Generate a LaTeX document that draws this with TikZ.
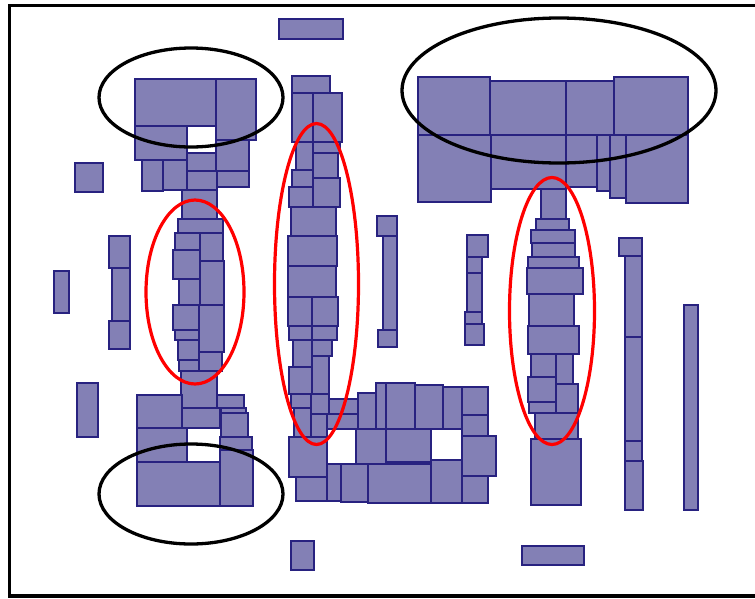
\documentclass[tikz,border=0pt]{standalone}
\definecolor{cellfill}{RGB}{131,128,181}
\definecolor{celledge}{RGB}{40,34,128}
\tikzset{
  cell/.style={fill=cellfill,draw=celledge,line width=1.2pt},
  blackring/.style={draw=black,line width=3.3pt},
  redring/.style={draw=red,line width=3.2pt},
}
\begin{document}
\begin{tikzpicture}[x=1pt,y=-1pt]
\useasboundingbox (0,0) rectangle (755,598);
\clip (0,0) rectangle (755,598);
\fill[white] (0,0) rectangle (755,598);
% cells
\foreach \a/\b/\c/\d in {
279/19/343/39,
135/79/216/126, 216/79/256/140, 135/126/187/160, 187/153/216/171, 216/140/249/171,
142/160/163/191, 163/160/187/190, 187/171/217/190, 217/171/249/187, 182/190/217/219,
75/163/103/192,
178/219/223/233, 175/233/200/250, 200/233/223/261, 173/250/200/279, 200/261/224/305,
179/279/200/305, 173/305/199/330, 199/305/224/352, 175/330/199/340, 178/340/199/360,
179/360/199/371, 199/352/222/371, 181/371/217/408,
109/236/130/268, 112/268/130/321, 109/321/130/349, 54/271/69/313, 77/383/98/437,
137/395/182/428, 182/408/220/428, 217/395/244/408, 221/408/246/413, 221/413/248/437,
220/437/252/450, 137/428/187/462, 137/462/220/506, 220/450/253/506,
292/76/330/93, 292/93/313/142, 313/93/342/142, 296/142/313/170, 313/142/340/153,
313/153/338/178, 292/170/313/187, 289/187/313/207, 313/178/340/207, 291/207/336/236,
288/236/337/266, 288/266/336/297, 288/297/312/326, 312/297/338/326, 289/326/312/340,
312/326/337/340, 293/340/312/367, 312/340/332/356, 312/356/329/394, 289/367/312/394,
291/394/311/408, 311/394/329/414, 294/408/311/437, 311/414/327/437, 329/399/358/414,
327/414/358/429, 358/393/376/429, 376/383/386/429, 386/383/415/429, 415/385/443/429,
443/387/462/429, 462/387/488/415, 462/415/488/436, 289/437/327/477, 356/429/386/464,
386/429/431/462, 462/436/496/476, 296/477/327/501, 327/464/341/501, 341/464/368/502,
368/464/431/503, 431/460/462/503, 462/476/488/503, 291/541/314/570,
377/216/397/236, 383/236/397/330, 378/330/397/347,
467/235/488/257, 467/257/482/273, 467/273/482/312, 465/312/482/324, 465/324/484/345,
418/77/490/135, 490/81/566/135, 566/81/614/135, 614/77/688/135,
418/135/491/202, 491/135/566/189, 566/135/597/187, 597/135/610/191, 610/135/626/198,
626/135/688/203,
541/189/566/219, 536/219/569/230, 531/230/575/243, 532/243/575/257, 528/257/579/268,
527/268/583/294, 529/294/574/326, 528/326/579/354, 531/354/556/377, 556/354/573/384,
528/377/556/402, 529/402/556/413, 556/384/578/413, 535/413/578/439, 531/439/581/505,
619/238/642/256, 625/256/642/337, 625/337/642/441, 625/441/642/461, 625/461/643/510,
684/305/698/510, 522/546/584/565}
  \draw[cell] (\a,\b) rectangle (\c,\d);
% rings
\draw[blackring] (191,97.5) ellipse [x radius=92, y radius=49.5];
\draw[blackring] (559,90.5) ellipse [x radius=157, y radius=72.5];
\draw[blackring] (191,494) ellipse [x radius=92, y radius=50];
\draw[redring] (195,292) ellipse [x radius=49, y radius=92];
\draw[redring] (316.5,284) ellipse [x radius=42, y radius=160.5];
\draw[redring] (552,311) ellipse [x radius=42.5, y radius=133.5];
% frame
\draw[line width=3.8pt] (9.5,5.5) rectangle (762,596);
\end{tikzpicture}
\end{document}
